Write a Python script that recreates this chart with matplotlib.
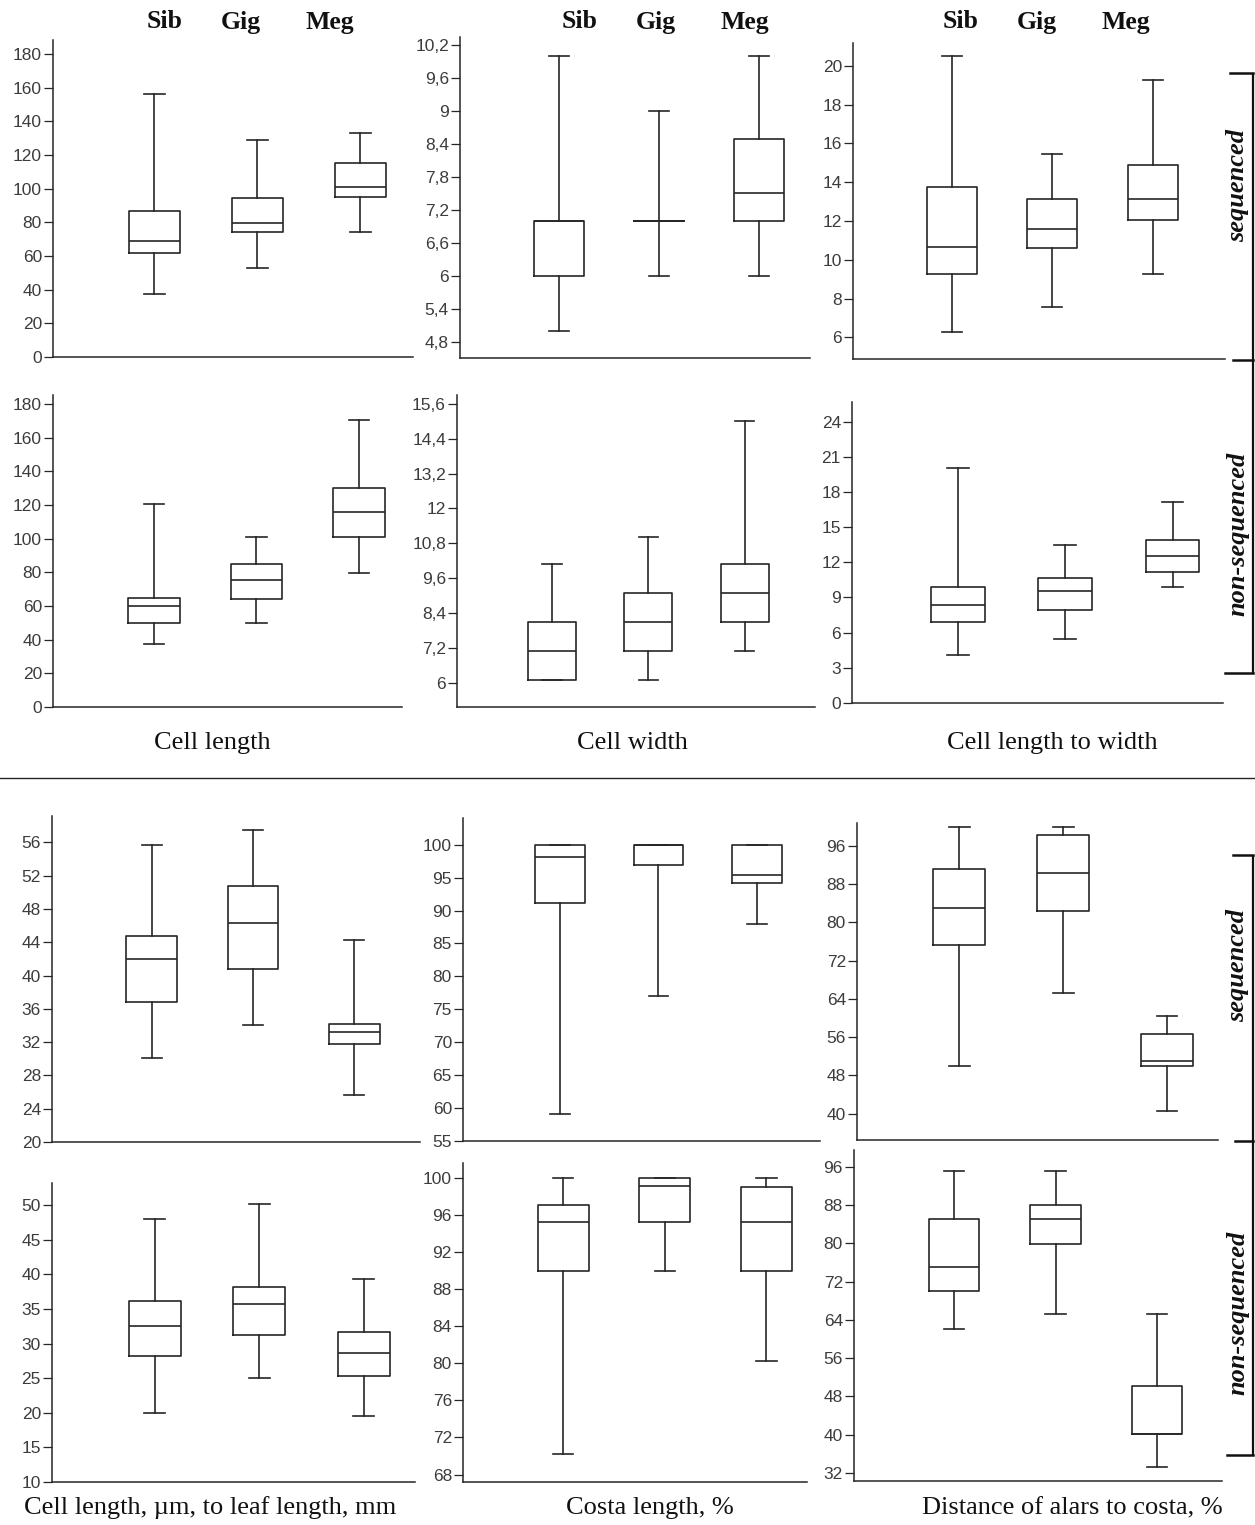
import numpy as np
import matplotlib.pyplot as plt

# box statistics per species: (whislo, q1, med, q3, whishi)
groups = ["Sib", "Gig", "Meg"]

cell_length_seq = [(37.3, 61.5, 69.0, 86.7, 156.3), (52.6, 74.5, 79.5, 94.6, 128.7), (74.5, 94.8, 101.1, 115.0, 132.9)]
cell_width_seq = [(5.0, 6.0, 7.0, 7.0, 10.0), (6.0, 7.0, 7.0, 7.0, 9.0), (6.0, 7.0, 7.5, 8.5, 10.0)]
cell_ratio_seq = [(6.3, 9.27, 10.68, 13.77, 20.48), (7.57, 10.6, 11.58, 13.14, 15.43), (9.27, 12.05, 13.14, 14.88, 19.25)]

cell_length_non = [(37.6, 49.6, 60.1, 64.9, 120.6), (49.6, 64.3, 75.4, 85.0, 100.7), (79.7, 100.7, 115.9, 130.3, 170.3)]
cell_width_non = [(6.08, 6.08, 7.09, 8.08, 10.1), (6.08, 7.09, 8.1, 9.09, 11.02), (7.09, 8.1, 9.09, 10.1, 15.01)]
cell_ratio_non = [(4.09, 6.87, 8.37, 9.9, 20.06), (5.42, 7.89, 9.59, 10.64, 13.48), (9.93, 11.15, 12.51, 13.9, 17.13)]

leaf_ratio_seq = [(30.14, 36.84, 42.01, 44.78, 55.72), (34.03, 40.73, 46.26, 50.75, 57.49), (25.61, 31.79, 33.27, 34.23, 44.26)]
costa_seq = [(59.16, 91.19, 98.13, 100.0, 100.0), (77.07, 96.96, 100.0, 100.0, 100.0), (88.0, 94.18, 95.34, 100.0, 100.0)]
alars_seq = [(50.0, 75.3, 83.1, 91.2, 100.0), (65.2, 82.3, 90.4, 98.2, 100.0), (40.5, 50.0, 51.0, 56.7, 60.5)]

leaf_ratio_non = [(19.9, 28.21, 32.51, 36.14, 48.07), (24.98, 31.3, 35.75, 38.2, 50.14), (19.5, 25.36, 28.7, 31.64, 39.37)]
costa_non = [(70.2, 89.95, 95.2, 97.05, 100.0), (89.95, 95.2, 99.1, 100.0, 100.0), (80.2, 89.95, 95.2, 99.06, 100.0)]
alars_non = [(62.1, 70.0, 75.1, 85.1, 95.1), (65.2, 79.8, 85.1, 88.0, 95.1), (33.3, 40.1, 40.1, 50.2, 65.2)]

# y ticks (start, stop, step) per panel
ticks_cell_length = (0, 180, 20)
ticks_width_seq = (4.8, 10.2, 0.6)
ticks_ratio_seq = (6, 20, 2)
ticks_width_non = (6, 15.6, 1.2)
ticks_ratio_non = (0, 24, 3)
ticks_leaf_seq = (20, 56, 4)
ticks_costa_seq = (55, 100, 5)
ticks_alars = (40, 96, 8)
ticks_leaf_non = (10, 50, 5)
ticks_costa_non = (68, 100, 4)
ticks_alars_non = (32, 96, 8)

col_labels_top = ["Cell length", "Cell width", "Cell length to width"]
col_labels_bottom = ["Cell length, \u00b5m, to leaf length, mm", "Costa length, %", "Distance of alars to costa, %"]

W, H = 1255, 1525
LC = "#262626"
TC = "#3c3c3c"

fig = plt.figure(figsize=(W / 100, H / 100), dpi=100)
fig.patch.set_facecolor("white")

# overlay in pixel coordinates for headers, brackets and separator
ov = fig.add_axes([0, 0, 1, 1])
ov.set_xlim(0, W)
ov.set_ylim(H, 0)
ov.axis("off")


def px_axes(x0, y0, x1, y1):
    return fig.add_axes([x0 / W, 1 - y1 / H, (x1 - x0) / W, (y1 - y0) / H])


def fmt(v):
    return f"{round(v, 1):g}".replace(".", ",")  # decimal comma


def draw_panel(rect, data, ylim, xright, ticks):
    ax = px_axes(*rect)
    stats = [dict(whislo=d[0], q1=d[1], med=d[2], q3=d[3], whishi=d[4], label=g)
             for d, g in zip(data, groups)]
    lp = dict(color=LC, linewidth=1.2)
    ax.bxp(stats, positions=[1, 2, 3], widths=0.5, capwidths=0.2,
           showfliers=False, manage_ticks=False,
           boxprops=lp, whiskerprops=lp, capprops=lp,
           medianprops=dict(color=LC, linewidth=1.2))
    ax.set_xlim(0.015, xright)
    ax.set_ylim(*ylim)
    t = np.round(np.arange(ticks[0], ticks[1] + ticks[2] / 2, ticks[2]), 1)
    ax.set_yticks(t)
    ax.set_yticklabels([fmt(v) for v in t])
    for s in ("top", "right"):
        ax.spines[s].set_visible(False)
    for s in ("left", "bottom"):
        ax.spines[s].set_color(LC)
        ax.spines[s].set_linewidth(1.1)
    ax.tick_params(axis="x", bottom=False, labelbottom=False)
    ax.tick_params(axis="y", direction="out", length=6.5, width=0.9, color=LC,
                   pad=1.5, labelsize=12.5, labelcolor=TC)
    for lab in ax.get_yticklabels():
        lab.set_fontfamily("Liberation Sans")
    ax.patch.set_alpha(0)
    return ax


# top half
draw_panel((53, 40, 413, 357), cell_length_seq, (0, 188.3), 3.51, ticks_cell_length)
draw_panel((460, 37, 810, 358), cell_width_seq, (4.5, 10.35), 3.51, ticks_width_seq)
draw_panel((853, 43, 1225, 359), cell_ratio_seq, (4.89, 21.17), 3.72, ticks_ratio_seq)
draw_panel((53, 395, 402, 707), cell_length_non, (0, 185.3), 3.42, ticks_cell_length)
draw_panel((457, 395, 815, 707), cell_width_non, (5.16, 15.91), 3.73, ticks_width_non)
draw_panel((852, 402, 1223, 703), cell_ratio_non, (0, 25.67), 3.47, ticks_ratio_non)

# bottom half
draw_panel((52, 816, 420, 1142), leaf_ratio_seq, (20, 59.17), 3.65, ticks_leaf_seq)
draw_panel((463, 818, 820, 1141), costa_seq, (55, 104.05), 3.64, ticks_costa_seq)
draw_panel((857, 823, 1218, 1140), alars_seq, (34.5, 100.8), 3.49, ticks_alars)
draw_panel((52, 1183, 415, 1482), leaf_ratio_non, (10, 53.2), 3.49, ticks_leaf_non)
draw_panel((463, 1163, 807, 1482), costa_non, (67.2, 101.6), 3.40, ticks_costa_non)
draw_panel((854, 1150, 1222, 1481), alars_non, (30.3, 99.5), 3.64, ticks_alars_non)

serif = "Liberation Serif"

# species headers
header_x = [(165, 241, 330), (580, 656, 745), (961, 1037, 1126)]
for xs in header_x:
    for x, g in zip(xs, groups):
        ov.text(x, 22, g, ha="center", va="center", fontsize=18.5,
                fontweight="bold", family=serif, color="#111111")

# column labels
for x, lab in zip((212, 632, 1052), col_labels_top):
    ov.text(x, 743, lab, ha="center", va="center", fontsize=19, family=serif, color="#111111")
for x, lab in zip((210, 650, 1072), col_labels_bottom):
    ov.text(x, 1508, lab, ha="center", va="center", fontsize=19, family=serif, color="#111111")

# separator
ov.plot([0, W], [778, 778], color=LC, lw=1.0)

# brackets
bx = 1253
for ytop, ymid, ybot, xt, xm, xb in [(73, 360, 673, 1230, 1233, 1225),
                                      (855, 1141, 1455, 1233, 1235, 1227)]:
    ov.plot([bx, bx], [ytop, ybot], color="#111111", lw=1.6, solid_capstyle="butt")
    ov.plot([xt, bx], [ytop, ytop], color="#111111", lw=1.8)
    ov.plot([xm, bx], [ymid, ymid], color="#111111", lw=1.8)
    ov.plot([xb, bx], [ybot, ybot], color="#111111", lw=1.8)

for y, lab in [(186, "sequenced"), (534, "non-sequenced"),
               (966, "sequenced"), (1313, "non-sequenced")]:
    ov.text(1238, y, lab, rotation=90, ha="center", va="center", fontsize=19,
            fontweight="bold", fontstyle="italic", family=serif, color="#111111")

fig.savefig("out.png", dpi=100)
plt.close(fig)
